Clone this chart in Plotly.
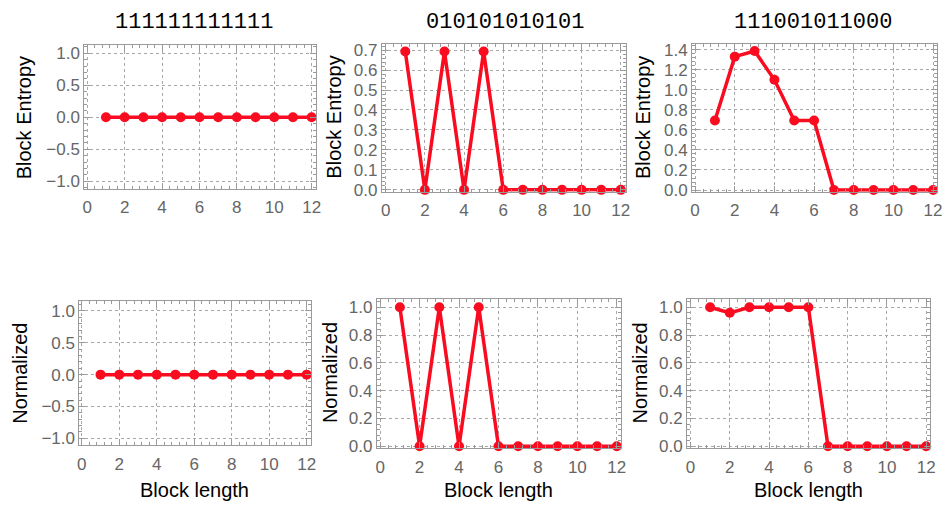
import plotly.graph_objects as go

W, H = 947, 512

block_length = [1, 2, 3, 4, 5, 6, 7, 8, 9, 10, 11, 12]
titles = ["111111111111", "010101010101", "111001011000"]

entropy_ones = [0, 0, 0, 0, 0, 0, 0, 0, 0, 0, 0, 0]
entropy_alt = [0.693, 0, 0.693, 0, 0.693, 0, 0, 0, 0, 0, 0, 0]
entropy_mixed = [0.693, 1.33, 1.386, 1.099, 0.693, 0.693, 0, 0, 0, 0, 0, 0]

norm_ones = [0, 0, 0, 0, 0, 0, 0, 0, 0, 0, 0, 0]
norm_alt = [1, 0, 1, 0, 1, 0, 0, 0, 0, 0, 0, 0]
norm_mixed = [1, 0.96, 1, 1, 1, 1, 0, 0, 0, 0, 0, 0]

top_yticks_ones = [-1.0, -0.5, 0.0, 0.5, 1.0]
top_yticks_alt = [0.0, 0.1, 0.2, 0.3, 0.4, 0.5, 0.6, 0.7]
top_yticks_mixed = [0.0, 0.2, 0.4, 0.6, 0.8, 1.0, 1.2, 1.4]
bot_yticks_ones = [-1.0, -0.5, 0.0, 0.5, 1.0]
bot_yticks_norm = [0.0, 0.2, 0.4, 0.6, 0.8, 1.0]
xticks = [0, 2, 4, 6, 8, 10, 12]

RED = "rgb(250,12,32)"
FRAME = "#9a9a9a"
GRID = "#a8a8a8"
TICKC = "#666666"

# pixel boxes: (left, right, top, bottom)
panels = [
    dict(box=(83, 317, 43, 190), y=entropy_ones, yr=[-1.12, 1.13], yt=top_yticks_ones, xr=[-0.16, 12.25]),
    dict(box=(383, 629, 42, 193), y=entropy_alt, yr=[-0.01, 0.73], yt=top_yticks_alt, xr=[-0.2, 12.25]),
    dict(box=(696, 943, 42, 193), y=entropy_mixed, yr=[-0.018, 1.455], yt=top_yticks_mixed, xr=[-0.15, 12.2]),
    dict(box=(78, 312, 305, 452), y=norm_ones, yr=[-1.11, 1.15], yt=bot_yticks_ones, xr=[-0.13, 12.25]),
    dict(box=(378, 624, 303, 455), y=norm_alt, yr=[-0.014, 1.056], yt=bot_yticks_norm, xr=[-0.17, 12.2]),
    dict(box=(691, 936, 303, 455), y=norm_mixed, yr=[-0.014, 1.056], yt=bot_yticks_norm, xr=[-0.17, 12.2]),
]

fig = go.Figure()
layout = {}
for i, p in enumerate(panels):
    n = "" if i == 0 else str(i + 1)
    l, r, t, b = p["box"]
    fig.add_trace(go.Scatter(
        x=block_length, y=p["y"], mode="lines+markers",
        line=dict(color=RED, width=3.5),
        marker=dict(color=RED, size=10),
        xaxis="x" + n, yaxis="y" + n, showlegend=False,
        cliponaxis=False,
    ))
    common = dict(
        showline=True, linecolor=FRAME, linewidth=1, mirror="allticks",
        ticks="inside", ticklen=6, tickcolor=FRAME, tickwidth=1,
        showgrid=True, gridcolor=GRID, griddash="dot", gridwidth=1,
        zeroline=False,
        tickfont=dict(family="Liberation Sans, Arial", size=17, color=TICKC),
    )
    layout["xaxis" + n] = dict(
        common, domain=[l / W, r / W], anchor="y" + n, range=p["xr"],
        tickvals=xticks, ticktext=[str(v) for v in xticks], ticklabelstandoff=3,
        minor=dict(ticks="inside", ticklen=3, tickcolor=FRAME, dtick=0.4, tick0=0, showgrid=False),
    )
    layout["yaxis" + n] = dict(
        common, domain=[1 - b / H, 1 - t / H], anchor="x" + n, range=p["yr"],
        tickvals=p["yt"], ticktext=["{:.1f}".format(v).replace("-", "\u2212") for v in p["yt"]],
        minor=dict(ticks="inside", ticklen=3, tickcolor=FRAME,
                   dtick=(p["yt"][1] - p["yt"][0]) / 5, tick0=0, showgrid=False),
    )

annotations = []
title_x = [194, 507, 818]
for tx, txt in zip(title_x, titles):
    annotations.append(dict(text=txt, x=tx / W, y=1 - 20 / H, xref="paper", yref="paper",
                            showarrow=False, xanchor="center", yanchor="middle",
                            font=dict(family="Liberation Mono, Courier New", size=22, color="black")))
ylab = [(23, 117, "Block Entropy"), (335, 117, "Block Entropy"), (647, 117, "Block Entropy"),
        (18, 378, "Normalized"), (331, 378, "Normalized"), (643, 378, "Normalized")]
for x, y, txt in ylab:
    annotations.append(dict(text=txt, x=x / W, y=1 - y / H, xref="paper", yref="paper",
                            showarrow=False, textangle=-90, xanchor="center", yanchor="middle",
                            font=dict(family="Liberation Sans, Arial", size=20, color="black")))
for x in [194, 501, 813]:
    annotations.append(dict(text="Block length", x=x / W, y=1 - 498 / H, xref="paper", yref="paper",
                            showarrow=False, xanchor="center", yanchor="middle",
                            font=dict(family="Liberation Sans, Arial", size=20, color="black")))

fig.update_layout(
    width=W, height=H, margin=dict(l=0, r=0, t=0, b=0),
    paper_bgcolor="white", plot_bgcolor="white",
    annotations=annotations, **layout,
)
fig.write_html("out.html", config={"displayModeBar": False},
               post_script="document.body.style.margin='0';")
